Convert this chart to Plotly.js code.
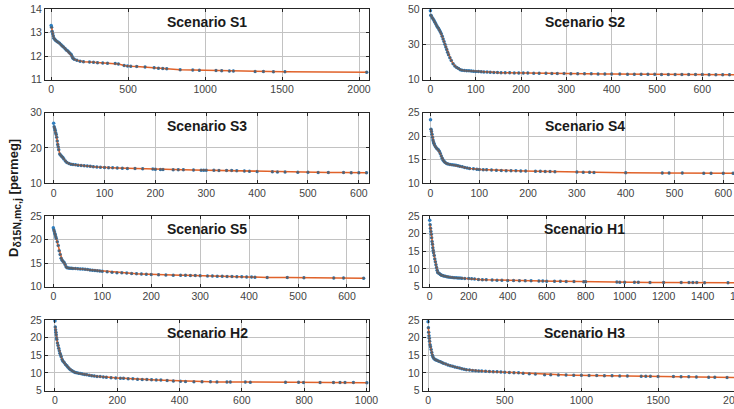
<!DOCTYPE html>
<html>
<head>
<meta charset="utf-8">
<script src="https://cdn.plot.ly/plotly-3.0.1.min.js"></script>
<style>
  html, body { margin: 0; padding: 0; overflow: hidden; background: #fff; }
  #chart { width: 760px; height: 409px; }
</style>
</head>
<body>
<div id="chart"></div>
<script>
// Convergence of D (permeg) against sample count, one panel per scenario.
const s1X = [0,3,6,10,14,18,24,30,38,46,55,64,72,80,90,98,106,114,122,130,136,142,150,167,188,210,249,275,301,335,366,416,437,474,496,517,556,610,669,697,725,751,838,920,963,1071,1108,1158,1184,1325,1379,1444,1519,2050];
const s1Y = [13.30,13.22,13.05,12.95,12.85,12.76,12.70,12.66,12.62,12.58,12.54,12.48,12.43,12.38,12.32,12.26,12.22,12.17,12.12,12.06,11.98,11.90,11.86,11.82,11.78,11.76,11.74,11.73,11.71,11.70,11.69,11.68,11.66,11.60,11.57,11.56,11.55,11.53,11.50,11.48,11.47,11.46,11.41,11.40,11.39,11.38,11.37,11.36,11.36,11.34,11.34,11.33,11.33,11.31];

const s2X = [0,1,2,4,6,8,10,12,14,16,18,20,22,24,26,28,30,32,34,36,38,40,43,46,50,54,58,62,66,70,75,80,85,90,95,100,106,112,118,125,132,140,148,156,165,175,185,195,205,215,228,240,255,268,280,295,310,325,340,355,370,385,400,418,435,450,465,480,495,510,525,540,555,570,585,600,615,630,645,660,680,695];
const s2Y = [49.0,46.5,46.0,45.0,44.3,43.5,42.5,41.5,40.5,39.7,39.0,38.0,37.0,36.0,34.5,33.0,31.5,30.0,28.5,27.0,25.5,24.0,22.3,20.8,19.0,17.6,16.8,16.2,15.6,15.3,15.1,15.0,14.9,14.8,14.7,14.6,14.5,14.4,14.3,14.2,14.1,14.0,13.95,13.9,13.85,13.8,13.75,13.7,13.68,13.65,13.6,13.55,13.5,13.45,13.4,13.35,13.3,13.25,13.22,13.2,13.15,13.12,13.1,13.05,13.02,13.0,12.97,12.95,12.92,12.9,12.88,12.86,12.84,12.82,12.8,12.78,12.76,12.74,12.72,12.7,12.68,12.66];

const s3X = [0,1,2,3,4,5,6,7,8,9,10,12,14,16,18,20,23,26,30,34,38,43,48,54,60,66,72,78,85,92,100,108,116,125,135,145,160,175,195,200,210,215,235,245,255,275,290,295,300,315,325,340,350,360,375,385,400,430,440,455,480,500,520,540,570,585,600,615];
const s3Y = [27.0,26.0,25.5,25.0,24.3,23.8,23.0,22.0,21.0,20.3,19.5,18.3,17.9,17.6,17.3,16.9,16.3,15.9,15.6,15.4,15.3,15.2,15.1,15.0,14.95,14.9,14.8,14.7,14.6,14.5,14.45,14.4,14.35,14.3,14.25,14.2,14.15,14.1,14.0,13.95,13.92,13.9,13.85,13.82,13.8,13.75,13.7,13.7,13.68,13.65,13.62,13.6,13.58,13.5,13.45,13.4,13.35,13.25,13.2,13.18,13.12,13.1,13.07,13.05,13.0,12.98,12.96,12.95];

const s4X = [0,1,2,3,4,5,6,7,8,10,12,14,16,18,20,22,24,26,28,30,33,36,40,44,48,52,56,60,65,70,75,80,88,95,100,108,115,125,135,145,155,165,175,185,195,215,225,235,245,255,300,313,326,335,400,475,489,516,560,575,600,620];
const s4Y = [23.5,21.5,21.0,20.4,19.8,19.2,18.8,18.5,18.2,17.8,17.5,17.3,17.1,16.8,16.3,15.8,15.3,14.9,14.6,14.4,14.2,14.1,14.0,13.9,13.85,13.8,13.7,13.6,13.5,13.35,13.25,13.15,13.05,12.95,12.9,12.88,12.85,12.8,12.75,12.7,12.67,12.65,12.63,12.61,12.6,12.55,12.53,12.5,12.48,12.46,12.38,12.35,12.32,12.3,12.22,12.18,12.17,12.16,12.14,12.13,12.11,12.1];

const s5X = [0,1,2,3,4,5,6,8,10,12,14,16,18,20,22,24,26,28,31,34,37,40,45,50,55,60,65,70,75,80,85,90,95,100,110,120,130,140,150,160,170,180,190,200,215,230,245,260,270,280,290,300,315,325,335,345,355,365,375,385,395,405,412,437,478,512,573,593,634];
const s5Y = [22.5,22.1,21.7,21.3,21.0,20.6,20.2,19.5,18.7,17.6,16.8,16.0,15.6,15.3,15.1,14.7,14.2,14.0,13.95,13.9,13.88,13.85,13.82,13.8,13.75,13.7,13.65,13.6,13.5,13.45,13.4,13.35,13.3,13.25,13.15,13.05,12.95,12.9,12.85,12.75,12.7,12.65,12.6,12.55,12.5,12.45,12.42,12.4,12.38,12.35,12.33,12.3,12.26,12.23,12.2,12.17,12.14,12.11,12.08,12.05,12.02,12.0,11.98,11.93,11.9,11.88,11.82,11.8,11.76];

const h1X = [0,2,4,6,8,10,12,14,16,18,20,23,26,29,32,35,38,41,45,50,55,60,66,72,80,88,96,105,115,125,135,145,155,165,180,200,215,230,250,270,290,320,345,370,400,430,460,490,520,560,580,600,640,670,700,740,790,800,960,975,1000,1050,1070,1130,1200,1290,1330,1350,1370,1410,1530,1620];
const h1Y = [23.8,22.5,21.5,20.6,19.8,18.8,17.8,17.0,16.0,15.2,14.6,13.8,12.8,12.0,11.2,10.4,9.6,9.0,8.8,8.6,8.4,8.2,8.1,8.0,7.9,7.8,7.7,7.6,7.55,7.5,7.45,7.4,7.38,7.35,7.3,7.25,7.2,7.15,7.0,6.95,6.9,6.85,6.8,6.75,6.7,6.68,6.65,6.62,6.6,6.58,6.55,6.52,6.5,6.48,6.45,6.42,6.35,6.33,6.25,6.24,6.22,6.2,6.19,6.17,6.15,6.12,6.11,6.1,6.1,6.08,6.05,6.03];

const h2X = [0,1,2,3,4,5,6,8,10,12,14,16,18,20,23,26,30,34,38,42,46,50,55,60,65,70,76,82,88,95,102,110,118,126,135,145,155,165,180,195,210,220,235,250,265,280,295,310,325,340,360,380,403,419,446,472,499,520,552,563,611,627,740,782,798,851,894,915,931,958,1001];
const h2Y = [24.7,23.0,22.2,21.5,20.8,20.0,19.5,18.5,17.8,17.0,16.3,15.6,15.1,14.6,13.8,13.3,12.9,12.4,12.0,11.6,11.2,10.9,10.6,10.3,10.1,10.0,9.9,9.8,9.7,9.55,9.5,9.3,9.2,9.1,9.0,8.95,8.85,8.75,8.65,8.55,8.5,8.45,8.35,8.3,8.2,8.15,8.1,8.05,8.0,7.95,7.85,7.7,7.6,7.55,7.5,7.48,7.46,7.44,7.42,7.41,7.38,7.37,7.33,7.31,7.3,7.28,7.26,7.25,7.25,7.24,7.22];

const h3X = [0,2,4,6,8,10,13,16,20,24,28,32,38,45,52,60,70,80,90,100,115,130,145,160,175,190,205,220,235,250,270,290,310,330,350,375,400,425,450,475,500,530,560,590,620,660,700,760,800,850,900,950,1000,1050,1100,1150,1200,1250,1300,1390,1420,1450,1500,1600,1650,1700,1750,1830,1870,1950,2050];
const h3Y = [24.5,22.8,21.5,20.5,19.8,19.0,18.0,17.4,16.6,15.8,15.0,14.5,14.1,13.8,13.65,13.5,13.3,13.15,12.95,12.75,12.5,12.25,12.05,11.85,11.65,11.5,11.35,11.2,11.05,10.9,10.8,10.7,10.6,10.55,10.5,10.45,10.4,10.35,10.3,10.25,10.2,10.1,10.05,10.0,9.9,9.75,9.65,9.5,9.45,9.42,9.38,9.33,9.3,9.27,9.24,9.21,9.18,9.14,9.1,9.05,9.03,9.02,9.0,8.95,8.9,8.87,8.83,8.78,8.75,8.7,8.65];

const scenarioNames = ['Scenario S1','Scenario S2','Scenario S3','Scenario S4','Scenario S5','Scenario H1','Scenario H2','Scenario H3'];
const yLabelMain = 'D';
const yLabelSub = 'δ15N,mc,j';
const yLabelUnit = '[permeg]';

// Panel set-up: axis limits and tick spacing, laid out two per row
const panels = [
  { x: s1X, y: s1Y, xr: [-40, 2065], yr: [11, 14], xd: 500, yd: 1 },
  { x: s2X, y: s2Y, xr: [-17, 698],  yr: [10, 50], xd: 100, yd: 20 },
  { x: s3X, y: s3Y, xr: [-17, 620],  yr: [10, 30], xd: 100, yd: 10 },
  { x: s4X, y: s4Y, xr: [-16, 648],  yr: [10, 25], xd: 100, yd: 5 },
  { x: s5X, y: s5Y, xr: [-17, 645],  yr: [10, 25], xd: 100, yd: 5 },
  { x: h1X, y: h1Y, xr: [-36, 1626], yr: [5, 25],  xd: 200, yd: 5 },
  { x: h2X, y: h2Y, xr: [-32, 1008], yr: [5, 25],  xd: 200, yd: 5 },
  { x: h3X, y: h3Y, xr: [-35, 2078], yr: [5, 25],  xd: 500, yd: 5 }
];

const W = 760, H = 409;
const colPx = [[45, 369], [422.7, 746.7]];
const rowTop = [9, 112.7, 216, 320];
const rowH = 70.5;
const FONT = 'Liberation Sans, Arial, Helvetica, sans-serif';

const traces = [];
const layout = {
  width: W, height: H,
  margin: { l: 0, r: 0, t: 0, b: 0 },
  paper_bgcolor: '#ffffff',
  plot_bgcolor: '#ffffff',
  showlegend: false,
  font: { family: FONT, size: 10.5, color: '#3a3a3a' },
  annotations: []
};

panels.forEach((p, i) => {
  const n = i + 1;
  const xa = n === 1 ? 'xaxis' : 'xaxis' + n;
  const ya = n === 1 ? 'yaxis' : 'yaxis' + n;
  const xr = n === 1 ? 'x' : 'x' + n;
  const yr = n === 1 ? 'y' : 'y' + n;
  const col = i % 2, row = Math.floor(i / 2);
  const top = rowTop[row], bot = top + rowH;

  const axisCommon = {
    showline: true, linecolor: '#262626', linewidth: 1, mirror: 'ticks',
    ticks: 'inside', ticklen: 3, tickcolor: '#262626', tickwidth: 1,
    showgrid: true, gridcolor: '#c2c2c2', gridwidth: 1,
    zeroline: false, tickfont: { family: FONT, size: 10.5, color: '#444444' },
    fixedrange: true
  };

  layout[xa] = Object.assign({}, axisCommon, {
    domain: [colPx[col][0] / W, colPx[col][1] / W],
    range: p.xr, dtick: p.xd, tick0: 0, anchor: yr
  });
  layout[ya] = Object.assign({}, axisCommon, {
    domain: [1 - bot / H, 1 - top / H],
    range: p.yr, dtick: p.yd, tick0: p.yr[0], anchor: xr
  });

  // observed values
  traces.push({
    type: 'scatter', mode: 'markers', xaxis: xr, yaxis: yr,
    x: p.x, y: p.y,
    marker: { color: '#2f7fc0', size: 3.5 },
    hoverinfo: 'skip'
  });
  // running curve with its sample markers
  traces.push({
    type: 'scatter', mode: 'lines+markers', xaxis: xr, yaxis: yr,
    x: p.x.slice(1), y: p.y.slice(1),
    line: { color: '#E0622A', width: 1.5 },
    marker: { color: '#55606c', size: 2.4 },
    hoverinfo: 'skip'
  });

  layout.annotations.push({
    xref: xr + ' domain', yref: yr + ' domain', x: 0.5, y: 1,
    xanchor: 'center', yanchor: 'top', yshift: -3,
    text: '<b>' + scenarioNames[i] + '</b>', showarrow: false,
    font: { family: FONT, size: 14, color: '#1a1a1a' }
  });
});

// shared y-axis label, with an enlarged subscript
layout.annotations.push({
  xref: 'paper', yref: 'paper', x: 14 / W, y: 1 - 198 / H,
  xanchor: 'center', yanchor: 'middle', textangle: -90,
  text: '<b>' + yLabelMain + '<sub><span style="font-size:10.5px">' + yLabelSub +
        '</span></sub> ' + yLabelUnit + '</b>',
  showarrow: false,
  font: { family: FONT, size: 13, color: '#1a1a1a' }
});

Plotly.newPlot('chart', traces, layout, { staticPlot: true, displayModeBar: false });
</script>
</body>
</html>
